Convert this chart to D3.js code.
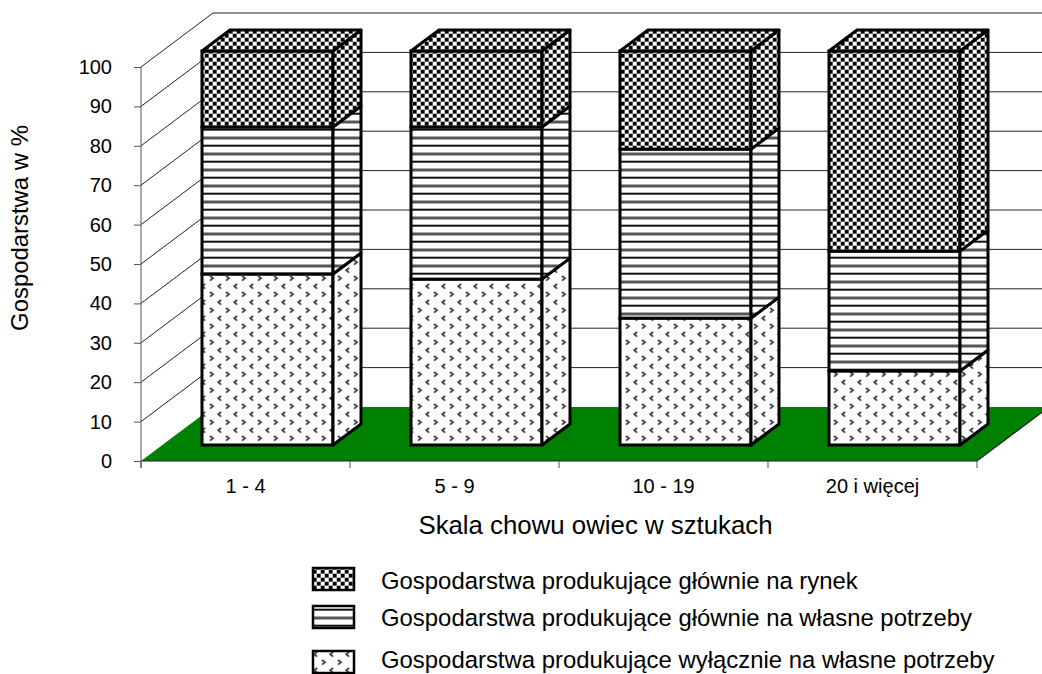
<!DOCTYPE html>
<html><head><meta charset="utf-8">
<style>html,body{margin:0;padding:0;background:#fff}svg{display:block}text{font-family:"Liberation Sans",Arial,sans-serif;fill:#000}</style>
<script src="https://cdn.jsdelivr.net/npm/d3@7"></script></head><body>
<svg id="c" width="1042" height="674"></svg>
<script>
const categories=["1 - 4","5 - 9","10 - 19","20 i więcej"];
const seriesNames=["Gospodarstwa produkujące wyłącznie na własne potrzeby","Gospodarstwa produkujące głównie na własne potrzeby","Gospodarstwa produkujące głównie na rynek"];
const exclusiveOwn=[43.4,42.1,32.2,18.8];
const mainlyOwn=[37.3,38.6,42.9,30.4];
const mainlyMarket=[19.3,19.3,24.9,50.8];
const yTicks=[0,10,20,30,40,50,60,70,80,90,100];
const patternIds=["dots","stripes","checks"];

const svg=d3.select("#c");
const defs=svg.append("defs");
let p=defs.append("pattern").attr("id","checks").attr("patternUnits","userSpaceOnUse").attr("width",8).attr("height",8).attr("x",1).attr("y",2);
p.append("rect").attr("width",8).attr("height",8).attr("fill","#999");
[[0,0,"#000"],[4,4,"#000"],[4,0,"#fff"],[0,4,"#fff"]].forEach(d=>p.append("rect").attr("x",d[0]).attr("y",d[1]).attr("width",3.4).attr("height",3.4).attr("fill",d[2]));
p=defs.append("pattern").attr("id","stripes").attr("patternUnits","userSpaceOnUse").attr("width",16).attr("height",16);
p.append("rect").attr("width",16).attr("height",16).attr("fill","#fff");
p.append("rect").attr("y",0.7).attr("width",16).attr("height",2).attr("fill","#111");
p.append("rect").attr("y",8.5).attr("width",16).attr("height",3).attr("fill","#555");
p=defs.append("pattern").attr("id","dots").attr("patternUnits","userSpaceOnUse").attr("width",16).attr("height",16);
p.append("rect").attr("width",16).attr("height",16).attr("fill","#fff");
const mark=d=>p.append("path").attr("d",d).attr("fill","none").attr("stroke","#444").attr("stroke-width",1.8);
mark("M2 4L5 6.3L2 8.6");mark("M13.2 12L10.2 14.3L13.2 16.6");mark("M13.2 -4L10.2 -1.7L13.2 0.6");

const W=72,H=54,fx=22,fy=16,dx=28,dy=21;
const x=d3.scaleBand().domain(categories).range([141,977]).paddingInner(78/209).paddingOuter(39/209);
const y=d3.scaleLinear().domain([0,100]).range([461,67]);
const g=svg.append("g");
const right=1042;
g.selectAll("path.grid").data(yTicks.filter(d=>d>0)).join("path").attr("class","grid")
 .attr("d",d=>`M141 ${y(d)}L${141+W} ${y(d)-H}L${right} ${y(d)-H}`).attr("fill","none").attr("stroke","#222").attr("stroke-width",1);
g.append("path").attr("d",`M141 ${y(0)}L${141+W} ${y(0)-H}L${977+W} ${y(0)-H}L977 ${y(0)}Z`).attr("fill","#008000").attr("stroke","none");
g.append("path").attr("d",`M141 ${y(0)}L977 ${y(0)}L${977+W} ${y(0)-H}`).attr("fill","none").attr("stroke","#222").attr("stroke-width",1.2);
const axY=d3.axisLeft(y).tickValues(yTicks).tickSize(7).tickPadding(22).tickFormat(d3.format("d"));
const gy=svg.append("g").attr("transform","translate(141,0)").call(axY);
gy.select(".domain").attr("stroke","#555").attr("d",`M0 ${y(0)+7}V${y(100)}`);
gy.selectAll("line").attr("stroke","#555");
gy.selectAll("text").attr("font-size",20).attr("font-family",null);
const axX=d3.axisBottom(x).tickSize(0).tickPadding(0);
const gx=svg.append("g").attr("transform",`translate(0,${y(0)})`).call(axX);
gx.select(".domain").remove();
gx.selectAll("text").attr("font-size",20).attr("font-family",null).attr("dy",0).attr("y",32).attr("text-anchor","middle");
gx.selectAll("line").remove();
d3.range(5).forEach(i=>{const tx=x.step()*i+141;gx.append("line").attr("x1",tx).attr("x2",tx).attr("y1",0).attr("y2",7).attr("stroke","#555");});
const stacks=[exclusiveOwn,mainlyOwn,mainlyMarket];
categories.forEach((c,i)=>{
 const x0=x(c)+fx,x1=x0+x.bandwidth();let cum=0;
 const bar=g.append("g");
 const lw=3;
 stacks.forEach((s,k)=>{
  const yb=y(cum)-fy,yt=y(cum+s[i])-fy;cum+=s[i];
  bar.append("rect").attr("x",x0).attr("y",yt).attr("width",x1-x0).attr("height",yb-yt).attr("fill",`url(#${patternIds[k]})`).attr("stroke","#000").attr("stroke-width",lw);
  bar.append("path").attr("d",`M${x1} ${yb}L${x1+dx} ${yb-dy}L${x1+dx} ${yt-dy}L${x1} ${yt}Z`).attr("fill",`url(#${patternIds[k]})`).attr("stroke","#000").attr("stroke-width",lw).attr("stroke-linejoin","round");
  if(k===2) bar.append("path").attr("d",`M${x0} ${yt}L${x0+dx} ${yt-dy}L${x1+dx} ${yt-dy}L${x1} ${yt}Z`).attr("fill",`url(#${patternIds[k]})`).attr("stroke","#000").attr("stroke-width",lw).attr("stroke-linejoin","round");
 });
});
svg.append("text").attr("x",595.5).attr("y",534).attr("text-anchor","middle").attr("font-size",25.8).text("Skala chowu owiec w sztukach");
svg.append("text").attr("transform","translate(28,228) rotate(-90)").attr("text-anchor","middle").attr("font-size",23.9).text("Gospodarstwa w %");
const legY=[568,606,651],legT=[589,626,668];
[2,1,0].forEach((k,j)=>{
 svg.append("rect").attr("x",313).attr("y",legY[j]).attr("width",41).attr("height",22).attr("fill",`url(#${patternIds[k]})`).attr("stroke","#000").attr("stroke-width",2.5);
 svg.append("text").attr("x",381).attr("y",legT[j]).attr("font-size",23.9).text(seriesNames[k]);
});
</script></body></html>
